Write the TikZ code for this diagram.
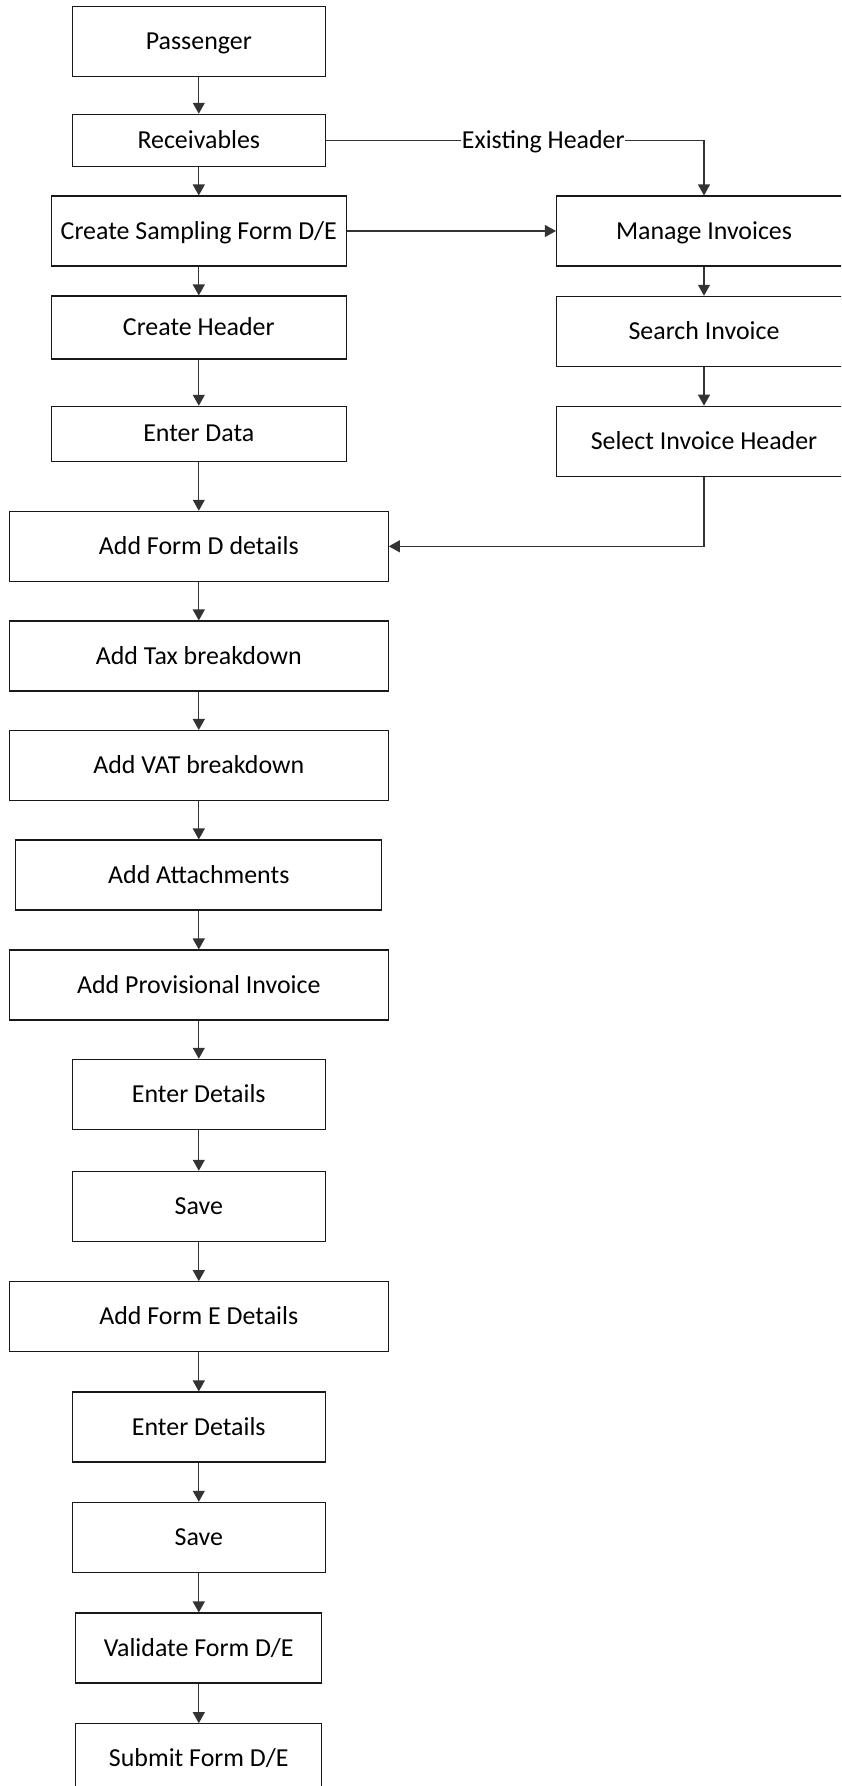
\documentclass[tikz,border=0pt]{standalone}
\usepackage{fontspec}
\setmainfont{Carlito}
\usetikzlibrary{arrows.meta}
\tikzset{
  box/.style={draw=black!90, line width=1.1pt, minimum height=#1, inner sep=0pt, align=center,
              text height=16.7pt, text depth=0.7pt},
  box/.default=70pt,
  arr/.style={draw=black!80, line width=1.1pt, -{Triangle[width=12pt,length=11pt]}},
  lbl/.style={fill=white, inner sep=0.6pt, text height=16.7pt, text depth=0.7pt}
}
\begin{document}
\begin{tikzpicture}[x=1pt,y=-1pt,font=\fontsize{25.9}{30}\selectfont]
\useasboundingbox (0,0) rectangle (841,1786);
\clip (0,0) rectangle (841,1786);
% left column
\node[box=70pt,  minimum width=253pt] (pass) at (198.8,41.3)  {Passenger};
\node[box=52pt,  minimum width=253pt] (recv) at (198.8,140.3) {Receivables};
\node[box=70pt,  minimum width=295pt] (csf)  at (198.8,231)   {Create Sampling Form D/E};
\node[box=63pt,  minimum width=295pt] (ch)   at (198.8,327.5) {Create Header};
\node[box=55pt,  minimum width=295pt] (ed)   at (198.8,433.8) {Enter Data};
\node[box=70pt,  minimum width=379pt] (afd)  at (198.8,546.3) {Add Form D details};
\node[box=70pt,  minimum width=379pt] (atb)  at (198.8,656)   {Add Tax breakdown};
\node[box=70pt,  minimum width=379pt] (avb)  at (198.8,765.5) {Add VAT breakdown};
\node[box=70pt,  minimum width=366pt] (aat)  at (198.8,875)   {Add Attachments};
\node[box=70pt,  minimum width=379pt] (api)  at (198.8,985)   {Add Provisional Invoice};
\node[box=70pt,  minimum width=253pt] (edt1) at (198.8,1094.3){Enter Details};
\node[box=70pt,  minimum width=253pt] (sav1) at (198.8,1206.3){Save};
\node[box=70pt,  minimum width=379pt] (afe)  at (198.8,1316.7){Add Form E Details};
\node[box=70pt,  minimum width=253pt] (edt2) at (198.8,1427)  {Enter Details};
\node[box=70pt,  minimum width=253pt] (sav2) at (198.8,1537.3){Save};
\node[box=70pt,  minimum width=246pt] (val)  at (198.8,1648)  {Validate Form D/E};
\node[box=70pt,  minimum width=246pt] (sub)  at (198.8,1758.7){Submit Form D/E};
% right column
\node[box=70pt,  minimum width=295pt] (mi)   at (704,231)     {Manage Invoices};
\node[box=70pt,  minimum width=295pt] (si)   at (704,331.3)   {Search Invoice};
\node[box=70pt,  minimum width=295pt] (sih)  at (704,441.2)   {Select Invoice Header};
% connectors
\draw[arr] (pass) -- (recv);
\draw[arr] (recv) -- (csf);
\draw[arr] (csf) -- (ch);
\draw[arr] (ch) -- (ed);
\draw[arr] (ed) -- (afd);
\draw[arr] (afd) -- (atb);
\draw[arr] (atb) -- (avb);
\draw[arr] (avb) -- (aat);
\draw[arr] (aat) -- (api);
\draw[arr] (api) -- (edt1);
\draw[arr] (edt1) -- (sav1);
\draw[arr] (sav1) -- (afe);
\draw[arr] (afe) -- (edt2);
\draw[arr] (edt2) -- (sav2);
\draw[arr] (sav2) -- (val);
\draw[arr] (val) -- (sub);
\draw[arr] (recv.east) -| node[lbl, pos=0.2875] {Existing Header} (mi.north);
\draw[arr] (csf.east) -- (mi.west);
\draw[arr] (mi) -- (si);
\draw[arr] (si) -- (sih);
\draw[arr] (sih.south) |- (afd.east);
\end{tikzpicture}
\end{document}
